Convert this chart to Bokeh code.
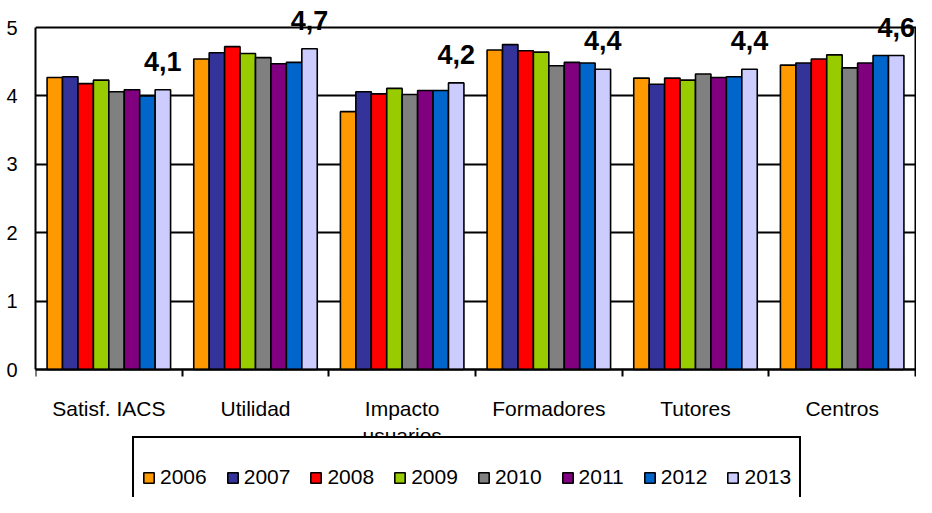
from bokeh.plotting import figure
from bokeh.models import (ColumnDataSource, FixedTicker, Range1d, Legend,
                          LegendItem, LabelSet, LinearAxis)
from bokeh.core.properties import value
from bokeh.embed import file_html
from bokeh.resources import INLINE

categories = ["Satisf. IACS", "Utilidad", "Impacto\nusuarios", "Formadores",
              "Tutores", "Centros"]
years = ["2006", "2007", "2008", "2009", "2010", "2011", "2012", "2013"]

v2006 = [4.27, 4.54, 3.77, 4.67, 4.26, 4.45]
v2007 = [4.28, 4.63, 4.06, 4.75, 4.17, 4.48]
v2008 = [4.18, 4.72, 4.03, 4.66, 4.26, 4.54]
v2009 = [4.23, 4.62, 4.11, 4.64, 4.23, 4.60]
v2010 = [4.06, 4.56, 4.02, 4.44, 4.32, 4.41]
v2011 = [4.09, 4.47, 4.08, 4.49, 4.27, 4.48]
v2012 = [4.00, 4.49, 4.08, 4.48, 4.28, 4.59]
v2013 = [4.09, 4.69, 4.19, 4.39, 4.39, 4.59]
series = [v2006, v2007, v2008, v2009, v2010, v2011, v2012, v2013]

colors = ["#FF9900", "#333399", "#FF0000", "#99CC00", "#808080", "#800080",
          "#0066CC", "#CCCCFF"]
y_ticks = [0, 1, 2, 3, 4, 5]

FONT = "Liberation Sans"
n_cat = len(categories)
n_ser = len(years)
W = 1.0 / (n_ser + 1.5)  # Excel-like gap width 150%
Y_MAX = y_ticks[-1]

# layout of the canvas (px): plot box top/bottom, canvas height
CANVAS_W, CANVAS_H = 916, 497
LEFT = 35
BOX_TOP, BOX_BOTTOM = 27, 369
PX_PER_UNIT = (BOX_BOTTOM - BOX_TOP) / Y_MAX
Y_START = -(CANVAS_H - BOX_BOTTOM) / PX_PER_UNIT
Y_END = Y_MAX + BOX_TOP / PX_PER_UNIT
X_END = n_cat * (CANVAS_W - LEFT) / (CANVAS_W - LEFT - 1)

p = figure(width=CANVAS_W, height=CANVAS_H, output_backend="svg",
           toolbar_location=None,
           x_range=Range1d(0, X_END), y_range=Range1d(Y_START, Y_END),
           min_border_left=LEFT, min_border_top=0, min_border_right=0,
           min_border_bottom=0)
p.background_fill_color = "white"
p.border_fill_color = "white"
p.outline_line_color = None

renderers = []
for j, (yr, vals, col) in enumerate(zip(years, series, colors)):
    xs = [i + 0.5 + (j - (n_ser - 1) / 2) * W for i in range(n_cat)]
    src = ColumnDataSource(dict(x=xs, top=vals))
    r = p.vbar(x="x", top="top", bottom=0, width=W, source=src,
               fill_color=col, line_color="black", line_width=1.6)
    renderers.append(r)

# data labels above the last series
last_x = [i + 0.5 + (n_ser - 1 - (n_ser - 1) / 2) * W for i in range(n_cat)]
lab_src = ColumnDataSource(dict(
    x=last_x, y=v2013,
    t=[("%.1f" % v).replace(".", ",") for v in v2013]))
labels = LabelSet(x="x", y="y", text="t", source=lab_src, y_offset=19,
                  text_align="center", text_baseline="alphabetic",
                  text_font=value(FONT), text_font_size=value("27px"),
                  text_font_style=value("bold"), text_color=value("black"))
p.add_layout(labels)

# x axis, drawn at y = 0
p.xaxis.fixed_location = 0
p.xaxis.ticker = FixedTicker(ticks=[i + 0.5 for i in range(n_cat)],
                             minor_ticks=list(range(n_cat + 1)))
p.xaxis.major_label_overrides = {i + 0.5: c for i, c in enumerate(categories)}
p.xaxis.bounds = (0, n_cat)
p.xaxis.major_tick_out = 0
p.xaxis.major_tick_in = 0
p.xaxis.minor_tick_out = 7
p.xaxis.minor_tick_in = 0
p.xaxis.minor_tick_line_color = "black"
p.xaxis.minor_tick_line_width = 2
p.xaxis.axis_line_color = "black"
p.xaxis.axis_line_width = 2
p.xaxis.major_label_standoff = 20
p.xaxis.major_label_text_font = FONT
p.xaxis.major_label_text_font_size = "21px"
p.xaxis.major_label_text_color = "black"

p.yaxis.ticker = FixedTicker(ticks=y_ticks)
p.yaxis.bounds = (0, Y_MAX)
p.yaxis.major_tick_out = 0
p.yaxis.major_tick_in = 0
p.yaxis.minor_tick_line_color = None
p.yaxis.axis_line_color = "black"
p.yaxis.axis_line_width = 2
p.yaxis.major_label_standoff = 18
p.yaxis.major_label_text_font = FONT
p.yaxis.major_label_text_font_size = "20px"
p.yaxis.major_label_text_color = "black"

# right border of the plot box: an unlabeled axis at x = n_cat
right_axis = LinearAxis(fixed_location=n_cat, bounds=(0, Y_MAX),
                        ticker=FixedTicker(ticks=[]),
                        major_tick_out=0, major_tick_in=0,
                        minor_tick_out=0, minor_tick_in=0,
                        major_label_text_font_size="0px",
                        axis_line_color="black", axis_line_width=2)
p.add_layout(right_axis, "right")

# horizontal gridlines (incl. top border)
p.ygrid.ticker = FixedTicker(ticks=y_ticks)
p.ygrid.grid_line_color = "black"
p.ygrid.grid_line_width = 2
p.ygrid.bounds = (Y_START, Y_END)
p.xgrid.visible = False

legend = Legend(items=[LegendItem(label=yr, renderers=[r])
                       for yr, r in zip(years, renderers)],
                orientation="horizontal", location=(97, -21),
                glyph_width=13, glyph_height=13, label_standoff=5,
                spacing=19, padding=8, label_height=62, margin=0,
                label_text_font=FONT, label_text_font_size="21px",
                label_text_color="black",
                border_line_color="black", border_line_width=2,
                border_line_alpha=1.0,
                background_fill_color="white", background_fill_alpha=1.0)
p.add_layout(legend)

open("out.html", "w").write(file_html(p, INLINE))
